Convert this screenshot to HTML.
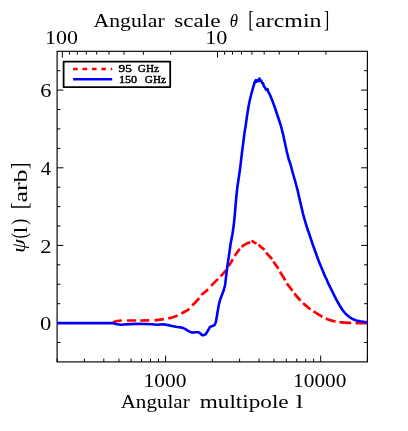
<!DOCTYPE html>
<html><head><meta charset="utf-8"><title>plot</title>
<style>
html,body{margin:0;padding:0;background:#fff;}
body{width:408px;height:431px;overflow:hidden;}
svg{display:block;}
text{font-family:"Liberation Serif",serif;fill:#000;}
</style></head><body>
<svg width="408" height="431" viewBox="0 0 408 431">
<rect x="0" y="0" width="408" height="431" fill="#fff"/>
<rect x="57.1" y="51.3" width="310.3" height="310.6" fill="none" stroke="#000" stroke-width="1.15"/>
<path d="M57.1 361.9L57.1 358.6M84.4 361.9L84.4 358.6M103.8 361.9L103.8 358.6M118.9 361.9L118.9 358.6M131.1 361.9L131.1 358.6M141.5 361.9L141.5 358.6M150.5 361.9L150.5 358.6M158.5 361.9L158.5 358.6M165.6 361.9L165.6 355.6M212.3 361.9L212.3 358.6M239.6 361.9L239.6 358.6M259.0 361.9L259.0 358.6M274.0 361.9L274.0 358.6M286.3 361.9L286.3 358.6M296.7 361.9L296.7 358.6M305.7 361.9L305.7 358.6M313.6 361.9L313.6 358.6M320.7 361.9L320.7 355.6M367.4 361.9L367.4 358.6M325.9 51.3L325.9 54.6M298.6 51.3L298.6 54.6M279.2 51.3L279.2 54.6M264.2 51.3L264.2 54.6M251.9 51.3L251.9 54.6M241.5 51.3L241.5 54.6M232.5 51.3L232.5 54.6M224.6 51.3L224.6 54.6M217.5 51.3L217.5 57.6M170.7 51.3L170.7 54.6M143.4 51.3L143.4 54.6M124.0 51.3L124.0 54.6M109.0 51.3L109.0 54.6M96.7 51.3L96.7 54.6M86.3 51.3L86.3 54.6M77.3 51.3L77.3 54.6M69.4 51.3L69.4 54.6M62.3 51.3L62.3 57.6M57.1 342.5L60.4 342.5M367.4 342.5L364.1 342.5M57.1 323.1L63.4 323.1M367.4 323.1L361.1 323.1M57.1 303.7L60.4 303.7M367.4 303.7L364.1 303.7M57.1 284.2L60.4 284.2M367.4 284.2L364.1 284.2M57.1 264.8L60.4 264.8M367.4 264.8L364.1 264.8M57.1 245.4L63.4 245.4M367.4 245.4L361.1 245.4M57.1 226.0L60.4 226.0M367.4 226.0L364.1 226.0M57.1 206.6L60.4 206.6M367.4 206.6L364.1 206.6M57.1 187.2L60.4 187.2M367.4 187.2L364.1 187.2M57.1 167.8L63.4 167.8M367.4 167.8L361.1 167.8M57.1 148.4L60.4 148.4M367.4 148.4L364.1 148.4M57.1 128.9L60.4 128.9M367.4 128.9L364.1 128.9M57.1 109.5L60.4 109.5M367.4 109.5L364.1 109.5M57.1 90.1L63.4 90.1M367.4 90.1L361.1 90.1M57.1 70.7L60.4 70.7M367.4 70.7L364.1 70.7" stroke="#000" stroke-width="1" fill="none"/>
<path d="M113.0 322.2L117.0 321.0L121.8 320.5M126.8 320.5L130.0 320.5L136.1 320.5M140.2 320.5L149.2 320.4M154.5 320.3L163.9 319.2M168.2 318.5L173.0 317.2L177.6 315.5M181.4 313.5L185.5 311.3L189.5 308.9M192.2 305.5L195.8 302.0L199.2 298.2M201.4 295.1L201.6 294.8L208.1 289.4M211.2 285.8L212.5 284.4L217.5 279.4L218.0 278.9M220.6 276.3L222.5 274.4L226.2 270.0M228.7 266.1L230.6 263.1L232.8 259.3M234.8 255.9L235.0 255.6L238.8 250.0L239.9 248.8M241.7 247.0L243.1 245.6L247.5 243.1L250.3 242.2M251.5 241.8L252.7 241.4L255.1 242.9L256.5 243.7M258.5 244.7L258.8 244.9L260.0 246.1L263.8 249.2L264.4 250.1M266.2 252.5L267.5 254.2L271.2 258.0L272.0 259.2M273.5 261.6L274.4 263.0L277.5 267.4L278.3 268.8M280.0 271.8L280.6 272.8L283.8 277.8L285.0 280.0L285.2 280.4M286.9 283.3L287.5 284.4L291.9 290.0L292.5 290.8M294.4 293.4L295.6 295.0L300.0 300.0L300.6 300.6M303.1 303.1L304.4 304.4L309.4 308.5L310.6 309.3M313.5 311.3L314.4 311.9L320.0 315.3L322.5 316.8M325.8 318.4L327.5 319.2L332.5 320.9L335.6 321.5M339.4 322.1L340.0 322.2L347.5 322.8L351.2 322.9M355.6 323.1L356.2 323.1L367.2 323.1" fill="none" stroke="#ff0000" stroke-width="2.7" stroke-linejoin="round"/>
<polyline points="57.1,323.1 112.0,323.1 116.0,323.9 120.5,324.8 130.0,324.1 139.2,323.8 152.0,324.3 157.0,324.8 163.2,324.3 169.5,325.4 175.8,326.8 182.0,327.6 185.1,328.9 188.2,331.0 192.0,332.6 195.1,332.2 198.2,332.2 200.0,333.1 201.4,334.5 203.1,335.4 205.6,334.4 207.5,331.3 210.0,326.9 212.5,326.0 214.8,324.8 216.0,321.3 216.9,316.3 217.9,310.0 218.8,305.0 220.0,300.0 221.9,295.0 223.8,290.0 225.1,285.0 225.8,278.8 226.9,270.0 228.1,261.2 229.4,252.5 230.6,243.8 232.3,235.0 233.8,224.8 234.8,214.8 235.6,204.8 236.5,194.8 237.5,186.0 238.3,181.0 239.8,170.8 241.0,160.8 242.2,150.8 243.5,140.8 244.6,132.0 245.5,127.0 246.9,116.8 248.5,106.8 250.0,99.2 251.9,91.8 253.5,86.1 255.0,81.5 255.8,80.2 256.6,81.7 257.6,80.3 258.6,81.0 259.4,78.5 260.2,80.9 261.2,80.5 262.0,82.8 263.1,83.2 263.8,86.2 265.0,87.6 266.0,89.8 267.5,89.2 268.2,91.6 270.0,94.9 272.5,101.1 275.0,108.0 277.5,115.5 280.0,123.0 281.2,127.0 283.1,134.5 285.0,143.2 286.9,152.0 288.8,159.5 290.6,164.5 292.5,172.0 295.1,181.0 297.5,189.8 299.4,198.5 301.2,206.0 303.1,214.1 305.0,221.0 306.9,227.2 309.6,235.0 312.5,243.8 315.6,252.5 318.8,261.2 321.9,268.8 325.0,276.2 326.9,280.0 328.1,283.1 330.0,286.9 333.1,293.1 336.2,299.4 339.4,305.0 342.5,310.0 345.6,313.8 348.8,316.6 352.5,319.0 356.2,320.4 360.0,321.2 363.8,321.9 367.2,322.2" fill="none" stroke="#0000ff" stroke-width="2.6" stroke-linejoin="round"/>
<rect x="63.6" y="61.6" width="106.6" height="25.5" fill="#fff" stroke="#000" stroke-width="1.8" stroke-linejoin="round"/>
<line x1="73.1" y1="69.0" x2="112.2" y2="69.0" stroke="#ff0000" stroke-width="2.6" stroke-dasharray="4.6 4.8"/>
<line x1="73.1" y1="79.3" x2="112.2" y2="79.3" stroke="#0000ff" stroke-width="2.6"/>
<g style="filter:grayscale(1)">
<text x="93.62" y="27.00" font-size="19" textLength="71.02" lengthAdjust="spacingAndGlyphs" >Angular</text>
<text x="174.29" y="27.00" font-size="19" textLength="46.21" lengthAdjust="spacingAndGlyphs" >scale</text>
<text x="229.87" y="27.00" font-size="19" textLength="8.22" lengthAdjust="spacingAndGlyphs" font-style="italic">&#952;</text>
<text x="248.16" y="27.00" font-size="23.5" textLength="5.56" lengthAdjust="spacingAndGlyphs" >[</text>
<text x="255.21" y="27.00" font-size="19" textLength="66.25" lengthAdjust="spacingAndGlyphs" >arcmin</text>
<text x="323.95" y="27.00" font-size="23.5" textLength="5.20" lengthAdjust="spacingAndGlyphs" >]</text>
<text x="120.66" y="407.60" font-size="19" textLength="69.01" lengthAdjust="spacingAndGlyphs" >Angular</text>
<text x="199.81" y="407.60" font-size="19" textLength="88.87" lengthAdjust="spacingAndGlyphs" >multipole</text>
<text x="296.09" y="407.60" font-size="19" textLength="7.08" lengthAdjust="spacingAndGlyphs" >l</text>
<text x="143.60" y="386.80" font-size="18.3" textLength="43.00" lengthAdjust="spacingAndGlyphs" >1000</text>
<text x="293.11" y="386.80" font-size="18.3" textLength="53.25" lengthAdjust="spacingAndGlyphs" >10000</text>
<text x="45.04" y="43.60" font-size="18.3" textLength="32.96" lengthAdjust="spacingAndGlyphs" >100</text>
<text x="205.19" y="43.60" font-size="18.3" textLength="22.19" lengthAdjust="spacingAndGlyphs" >10</text>
<text x="40.11" y="330.30" font-size="18.3" textLength="11.33" lengthAdjust="spacingAndGlyphs" >0</text>
<text x="40.23" y="252.50" font-size="18.3" textLength="11.22" lengthAdjust="spacingAndGlyphs" >2</text>
<text x="40.66" y="174.80" font-size="18.3" textLength="10.26" lengthAdjust="spacingAndGlyphs" >4</text>
<text x="40.19" y="97.00" font-size="18.3" textLength="11.17" lengthAdjust="spacingAndGlyphs" >6</text>
<text x="118.44" y="71.80" font-size="11.4" textLength="13.43" lengthAdjust="spacingAndGlyphs" stroke="#000" stroke-width="0.45">95</text>
<text x="137.86" y="71.80" font-size="11.4" textLength="21.09" lengthAdjust="spacingAndGlyphs" stroke="#000" stroke-width="0.45">GHz</text>
<text x="118.90" y="83.00" font-size="11.4" textLength="18.24" lengthAdjust="spacingAndGlyphs" stroke="#000" stroke-width="0.45">150</text>
<text x="144.86" y="83.00" font-size="11.4" textLength="21.09" lengthAdjust="spacingAndGlyphs" stroke="#000" stroke-width="0.45">GHz</text>
<text transform="translate(25.20,252.85) rotate(-90)" font-size="19" textLength="13.68" lengthAdjust="spacingAndGlyphs" font-style="italic">&#968;</text>
<text transform="translate(26.00,238.40) rotate(-90)" font-size="21" textLength="5.64" lengthAdjust="spacingAndGlyphs" >(</text>
<text transform="translate(26.60,233.48) rotate(-90)" font-size="19" textLength="7.16" lengthAdjust="spacingAndGlyphs" >l</text>
<text transform="translate(26.00,224.74) rotate(-90)" font-size="21" textLength="5.94" lengthAdjust="spacingAndGlyphs" >)</text>
<text transform="translate(26.60,209.60) rotate(-90)" font-size="23.5" textLength="7.37" lengthAdjust="spacingAndGlyphs" >[</text>
<text transform="translate(26.60,202.51) rotate(-90)" font-size="19" textLength="33.10" lengthAdjust="spacingAndGlyphs" >arb</text>
<text transform="translate(26.60,169.15) rotate(-90)" font-size="23.5" textLength="6.80" lengthAdjust="spacingAndGlyphs" >]</text>
</g>
</svg></body></html>
